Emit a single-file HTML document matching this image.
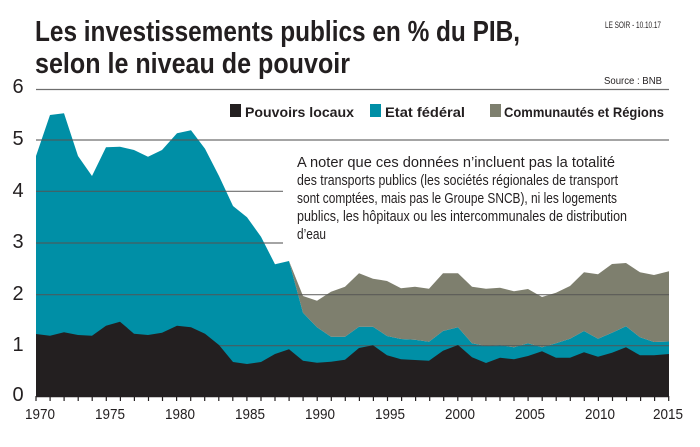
<!DOCTYPE html>
<html><head><meta charset="utf-8"><style>
html,body{margin:0;padding:0;background:#fff;}
svg{display:block;}
text{font-family:"Liberation Sans",sans-serif;}
</style></head><body>
<svg width="700" height="447" viewBox="0 0 700 447" xmlns="http://www.w3.org/2000/svg">
<rect width="700" height="447" fill="#fff"/>
<text x="35" y="41" font-size="29" font-weight="bold" fill="#231f20" textLength="485" lengthAdjust="spacingAndGlyphs">Les investissements publics en % du PIB,</text>
<text x="35" y="73" font-size="29" font-weight="bold" fill="#231f20" textLength="315" lengthAdjust="spacingAndGlyphs">selon le niveau de pouvoir</text>
<text x="605" y="28" font-size="9" fill="#231f20" textLength="56" lengthAdjust="spacingAndGlyphs">LE SOIR - 10.10.17</text>
<text x="604" y="84" font-size="10" fill="#231f20" textLength="58" lengthAdjust="spacingAndGlyphs">Source : BNB</text>

<g id="chart">
<polygon fill="#008fa6" points="36,396 36,156 50,115 64,113.3 78,156 92,176 106,147.3 120,146.8 134,150 148,156.7 162,150 177,133.3 191,130.3 205,148.7 219,176 233,206 247,217.3 261,236.7 275,264.3 289,261 303,312.7 317,327.3 331,336.7 345,336.7 359,326.7 373,326.7 387,336 401,339 415,339.8 429,341.7 443,331 458,327.3 472,343.3 486,346 500,345 514,347.3 528,343.3 542,347.3 556,343.3 570,338.7 584,331 598,338.7 612,332.7 626,326.3 640,337.3 654,342 669,341.5 669,396"/>
<polygon fill="#7e7f6e" points="289,261 303,296 317,300.7 331,291.7 345,286.7 359,273.3 373,278.7 387,281 401,288.3 415,286.7 429,288.7 443,273.3 458,273.3 472,286.7 486,288.7 500,287.7 514,291.3 528,289 542,297 556,292.7 570,286 584,272.3 598,274.3 612,264 626,263 640,272.3 654,275 669,271.3 669,341.5 654,342 640,337.3 626,326.3 612,332.7 598,338.7 584,331 570,338.7 556,343.3 542,347.3 528,343.3 514,347.3 500,345 486,346 472,343.3 458,327.3 443,331 429,341.7 415,339.8 401,339 387,336 373,326.7 359,326.7 345,336.7 331,336.7 317,327.3 303,312.7"/>
<g stroke="#555" stroke-width="1.2" opacity="0.85">
<line x1="36" y1="89.5" x2="669" y2="89.5"/>
<line x1="36" y1="140" x2="669" y2="140"/>
<line x1="36" y1="191.3" x2="283" y2="191.3"/>
<line x1="36" y1="243" x2="283" y2="243"/>
<line x1="36" y1="294.7" x2="669" y2="294.7"/>
<line x1="36" y1="345.7" x2="669" y2="345.7"/>
</g>
<polygon fill="#231f20" points="36,396 36,334 50,335.7 64,332.3 78,335 92,335.7 106,325.7 120,321.7 134,333.7 148,335 162,332.7 177,325.7 191,327.3 205,333.7 219,345 233,362 247,364 261,362 275,354 289,349.3 303,360.7 317,362.7 331,361.7 345,359.7 359,348 373,345.3 387,355.3 401,359.3 415,360 429,360.7 443,350.7 458,345 472,357.3 486,363 500,357.7 514,359.3 528,356 542,351.3 556,357.7 570,357.7 584,352.3 598,356.7 612,352.7 626,347.3 640,355.3 654,355.3 669,354 669,396"/>
<line x1="36" y1="396.5" x2="669" y2="396.5" stroke="#231f20" stroke-width="1.5"/>
<g stroke="#231f20" stroke-width="1.2">
<line x1="36.0" y1="396" x2="36.0" y2="401"/><line x1="50.1" y1="396" x2="50.1" y2="401"/><line x1="64.1" y1="396" x2="64.1" y2="401"/><line x1="78.2" y1="396" x2="78.2" y2="401"/><line x1="92.2" y1="396" x2="92.2" y2="401"/><line x1="106.3" y1="396" x2="106.3" y2="401"/><line x1="120.4" y1="396" x2="120.4" y2="401"/><line x1="134.4" y1="396" x2="134.4" y2="401"/><line x1="148.5" y1="396" x2="148.5" y2="401"/><line x1="162.5" y1="396" x2="162.5" y2="401"/><line x1="176.6" y1="396" x2="176.6" y2="401"/><line x1="190.7" y1="396" x2="190.7" y2="401"/><line x1="204.7" y1="396" x2="204.7" y2="401"/><line x1="218.8" y1="396" x2="218.8" y2="401"/><line x1="232.8" y1="396" x2="232.8" y2="401"/><line x1="246.9" y1="396" x2="246.9" y2="401"/><line x1="261.0" y1="396" x2="261.0" y2="401"/><line x1="275.0" y1="396" x2="275.0" y2="401"/><line x1="289.1" y1="396" x2="289.1" y2="401"/><line x1="303.1" y1="396" x2="303.1" y2="401"/><line x1="317.2" y1="396" x2="317.2" y2="401"/><line x1="331.3" y1="396" x2="331.3" y2="401"/><line x1="345.3" y1="396" x2="345.3" y2="401"/><line x1="359.4" y1="396" x2="359.4" y2="401"/><line x1="373.4" y1="396" x2="373.4" y2="401"/><line x1="387.5" y1="396" x2="387.5" y2="401"/><line x1="401.6" y1="396" x2="401.6" y2="401"/><line x1="415.6" y1="396" x2="415.6" y2="401"/><line x1="429.7" y1="396" x2="429.7" y2="401"/><line x1="443.7" y1="396" x2="443.7" y2="401"/><line x1="457.8" y1="396" x2="457.8" y2="401"/><line x1="471.9" y1="396" x2="471.9" y2="401"/><line x1="485.9" y1="396" x2="485.9" y2="401"/><line x1="500.0" y1="396" x2="500.0" y2="401"/><line x1="514.0" y1="396" x2="514.0" y2="401"/><line x1="528.1" y1="396" x2="528.1" y2="401"/><line x1="542.2" y1="396" x2="542.2" y2="401"/><line x1="556.2" y1="396" x2="556.2" y2="401"/><line x1="570.3" y1="396" x2="570.3" y2="401"/><line x1="584.3" y1="396" x2="584.3" y2="401"/><line x1="598.4" y1="396" x2="598.4" y2="401"/><line x1="612.5" y1="396" x2="612.5" y2="401"/><line x1="626.5" y1="396" x2="626.5" y2="401"/><line x1="640.6" y1="396" x2="640.6" y2="401"/><line x1="654.6" y1="396" x2="654.6" y2="401"/><line x1="668.7" y1="396" x2="668.7" y2="401"/>
</g>
</g>

<g font-size="20" fill="#231f20" text-anchor="middle">
<text x="18" y="93">6</text><text x="18" y="145">5</text><text x="18" y="197">4</text><text x="18" y="248">3</text><text x="18" y="300">2</text><text x="18" y="351">1</text><text x="18" y="401">0</text>
</g>
<g font-size="15" fill="#231f20" text-anchor="middle">
<text x="40" y="419" textLength="30" lengthAdjust="spacingAndGlyphs">1970</text>
<text x="110" y="419" textLength="30" lengthAdjust="spacingAndGlyphs">1975</text>
<text x="180" y="419" textLength="30" lengthAdjust="spacingAndGlyphs">1980</text>
<text x="250" y="419" textLength="30" lengthAdjust="spacingAndGlyphs">1985</text>
<text x="320" y="419" textLength="30" lengthAdjust="spacingAndGlyphs">1990</text>
<text x="390" y="419" textLength="30" lengthAdjust="spacingAndGlyphs">1995</text>
<text x="460" y="419" textLength="30" lengthAdjust="spacingAndGlyphs">2000</text>
<text x="530" y="419" textLength="30" lengthAdjust="spacingAndGlyphs">2005</text>
<text x="600" y="419" textLength="30" lengthAdjust="spacingAndGlyphs">2010</text>
<text x="668" y="419" textLength="30" lengthAdjust="spacingAndGlyphs">2015</text>
</g>

<g font-size="14" font-weight="bold" fill="#231f20">
<rect x="230" y="104" width="11" height="13" fill="#231f20"/>
<text x="245" y="117" textLength="109" lengthAdjust="spacingAndGlyphs">Pouvoirs locaux</text>
<rect x="370" y="104" width="11" height="13" fill="#008fa6"/>
<text x="385" y="117" textLength="80" lengthAdjust="spacingAndGlyphs">Etat fédéral</text>
<rect x="490" y="104" width="11" height="13" fill="#7e7f6e"/>
<text x="504" y="117" textLength="160" lengthAdjust="spacingAndGlyphs">Communautés et Régions</text>
</g>

<g font-size="14.5" fill="#231f20">
<text x="297" y="167" textLength="318" lengthAdjust="spacingAndGlyphs">A noter que ces données n’incluent pas la totalité</text>
<text x="297" y="185" textLength="321" lengthAdjust="spacingAndGlyphs">des transports publics (les sociétés régionales de transport</text>
<text x="297" y="203" textLength="320" lengthAdjust="spacingAndGlyphs">sont comptées, mais pas le Groupe SNCB), ni les logements</text>
<text x="297" y="221" textLength="330" lengthAdjust="spacingAndGlyphs">publics, les hôpitaux ou les intercommunales de distribution</text>
<text x="297" y="239" textLength="29" lengthAdjust="spacingAndGlyphs">d’eau</text>
</g>
</svg>
</body></html>
